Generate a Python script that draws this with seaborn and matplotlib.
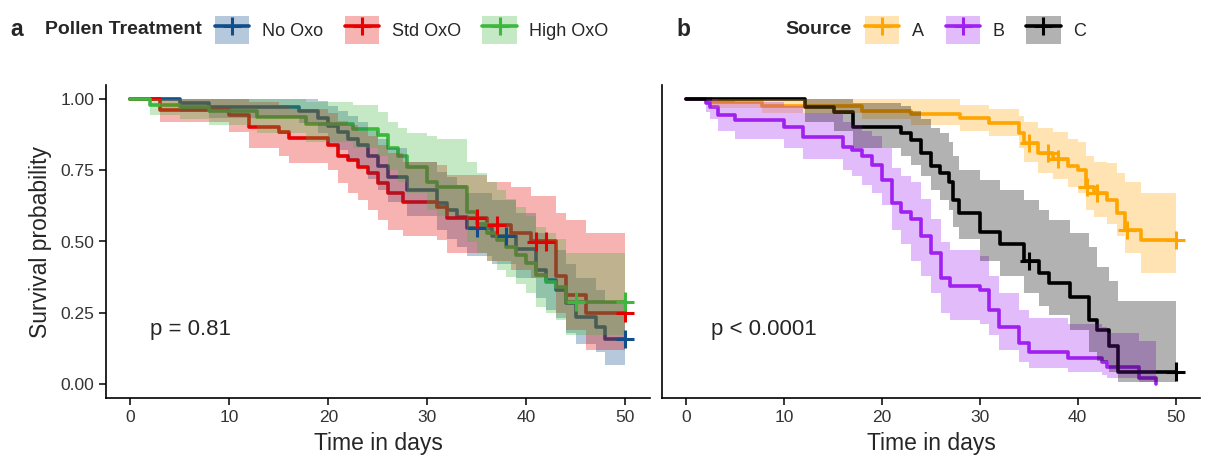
import numpy as np
import pandas as pd
import matplotlib
matplotlib.use("Agg")
import matplotlib.pyplot as plt
import seaborn as sns
from matplotlib.patches import Patch
from matplotlib.lines import Line2D

sns.set_theme(style="ticks")
plt.rcParams["font.family"] = ["Liberation Sans", "DejaVu Sans"]

# ---------------- Panel a : Pollen Treatment ----------------
treat_groups = ["No Oxo", "Std OxO", "High OxO"]
treat_colors = ["#104E8B", "#E60000", "#3CB83C"]

noxo_t = [0, 5, 8, 17, 19, 20, 21, 22, 23, 24, 25, 26, 28, 31, 32, 33, 34, 36.5, 39, 41, 42, 43, 44, 45, 47, 48]
noxo_s = [1, .985, .973, .958, .933, .905, .886, .86, .84, .80, .765, .727, .68, .635, .61, .585, .546, .519, .475, .40, .365, .33, .283, .236, .20, .157]
noxo_lo = [1, .955, .935, .915, .88, .845, .82, .79, .765, .72, .68, .64, .59, .54, .51, .48, .45, .42, .37, .30, .26, .23, .18, .14, .11, .067]
noxo_hi = [1, 1, 1, 1, .995, .975, .96, .94, .92, .89, .86, .83, .78, .745, .725, .70, .67, .645, .60, .53, .50, .47, .42, .37, .33, .29]
noxo_end = 50
noxo_cens = [35, 38, 50]

std_t = [0, 3, 10, 12, 15, 16, 20, 21, 22, 23, 24, 25, 26, 27.5, 31, 32, 36, 38.5, 40.5, 43, 44, 46]
std_s = [1, .963, .944, .903, .886, .862, .839, .80, .786, .763, .739, .704, .669, .64, .623, .581, .558, .531, .50, .377, .312, .248]
std_lo = [1, .92, .886, .83, .80, .775, .75, .705, .67, .645, .61, .575, .54, .52, .505, .46, .43, .40, .37, .25, .19, .12]
std_hi = [1, 1, 1, .99, .98, .965, .95, .925, .91, .89, .87, .84, .81, .78, .77, .735, .71, .69, .66, .60, .575, .53]
std_end = 50
std_cens = [35, 37, 41, 42, 50]

high_t = [0, 2, 5, 8, 12.8, 17.8, 22.5, 25, 26, 27, 28, 30, 31, 34, 35, 36, 37, 38, 39, 40, 41, 42, 43, 44]
high_s = [1, .981, .973, .958, .938, .914, .897, .875, .83, .80, .763, .71, .693, .605, .56, .53, .505, .48, .452, .423, .382, .359, .341, .289]
high_lo = [1, .945, .93, .91, .88, .85, .83, .80, .75, .71, .67, .61, .59, .50, .46, .43, .40, .376, .35, .32, .27, .25, .225, .17]
high_hi = [1, 1, 1, 1, 1, .99, .98, .955, .92, .90, .88, .87, .86, .78, .74, .71, .68, .65, .62, .59, .55, .53, .51, .46]
high_end = 50
high_cens = [45, 50]

# ---------------- Panel b : Source ----------------
src_groups = ["A", "B", "C"]
src_colors = ["#FFA500", "#A020F0", "#000000"]

a_t = [0, 2.7, 7.8, 18, 23, 28, 31, 34, 34.5, 36, 37.5, 39, 40, 40.9, 41.7, 43, 44, 44.8, 46.5]
a_s = [1, .99, .976, .958, .947, .933, .915, .88, .845, .81, .79, .765, .75, .692, .67, .646, .60, .54, .505]
a_lo = [1, .97, .95, .93, .91, .89, .87, .83, .78, .74, .72, .69, .67, .61, .585, .56, .52, .46, .39]
a_hi = [1, 1, 1, 1, 1, .98, .965, .94, .92, .90, .885, .86, .85, .80, .78, .775, .74, .71, .67]
a_end = 50
a_cens = [35, 37, 38, 41, 42, 45, 50]

b_t = [0, 2, 2.5, 3.3, 5, 10, 12, 16, 17, 18, 19, 20, 21, 22, 23, 24, 25, 26, 27, 30, 31, 32, 34, 35, 39, 42.5, 43, 46.3, 48]
b_s = [1, .985, .973, .944, .926, .903, .868, .833, .82, .80, .77, .716, .635, .605, .58, .52, .46, .37, .345, .33, .26, .20, .144, .113, .091, .078, .06, .02, 0]
b_lo = [1, .955, .93, .89, .86, .83, .79, .75, .73, .70, .67, .63, .54, .49, .43, .38, .32, .25, .225, .21, .17, .12, .075, .055, .04, .03, .02, .005, 0]
b_hi = [1, 1, 1, .995, .99, .975, .95, .92, .91, .89, .87, .83, .76, .73, .71, .65, .58, .50, .47, .45, .38, .32, .26, .23, .21, .20, .18, .15, 0]
b_end = 48
b_cens = []

c_t = [0, 12.2, 15.1, 17.1, 22, 23, 24, 25, 25.9, 26.9, 27.3, 27.9, 30, 32.1, 34.5, 36.1, 37.1, 39.2, 41.2, 42, 43.2, 44.1]
c_s = [1, .973, .955, .903, .88, .856, .81, .765, .74, .71, .646, .60, .535, .49, .43, .39, .354, .306, .225, .19, .131, .043]
c_lo = [1, .92, .89, .83, .80, .77, .73, .68, .645, .61, .55, .51, .43, .38, .32, .275, .24, .19, .11, .08, .04, .005]
c_hi = [1, 1, 1, .985, .975, .96, .93, .90, .88, .85, .80, .75, .716, .68, .645, .61, .575, .53, .48, .41, .36, .29]
c_end = 50
c_cens = [35, 50]

panel_a = {
    "No Oxo": (noxo_t, noxo_s, noxo_lo, noxo_hi, noxo_end, noxo_cens),
    "Std OxO": (std_t, std_s, std_lo, std_hi, std_end, std_cens),
    "High OxO": (high_t, high_s, high_lo, high_hi, high_end, high_cens),
}
panel_b = {
    "A": (a_t, a_s, a_lo, a_hi, a_end, a_cens),
    "B": (b_t, b_s, b_lo, b_hi, b_end, b_cens),
    "C": (c_t, c_s, c_lo, c_hi, c_end, c_cens),
}

W, H = 1208, 459
fig = plt.figure(figsize=(W / 100, H / 100), dpi=100)
axA = fig.add_axes([106 / W, 1 - 398 / H, 544 / W, 313 / H])
axB = fig.add_axes([662 / W, 1 - 398 / H, 538 / W, 313 / H])


def draw_panel(ax, groups, colors, data):
    rows, crow = [], []
    for g in groups:
        t, s, lo, hi, tend, cens = data[g]
        for ti, si in zip(list(t) + [tend], list(s) + [s[-1]]):
            rows.append((g, ti, si))
        for tc in cens:
            idx = np.searchsorted(np.array(t), tc, side="right") - 1
            crow.append((g, tc, s[idx]))
    df = pd.DataFrame(rows, columns=["group", "time", "surv"])
    pal = dict(zip(groups, colors))
    sns.lineplot(data=df, x="time", y="surv", hue="group", palette=pal,
                 estimator=None, sort=False, drawstyle="steps-post",
                 lw=2.6, legend=False, ax=ax, zorder=2)
    for g, c in zip(groups, colors):
        t, s, lo, hi, tend, cens = data[g]
        x = list(t) + [tend]
        ax.fill_between(x, list(lo) + [lo[-1]], list(hi) + [hi[-1]], step="post",
                        color=c, alpha=0.3, lw=0, zorder=2.5)
    if crow:
        cdf = pd.DataFrame(crow, columns=["group", "time", "surv"])
        sns.scatterplot(data=cdf, x="time", y="surv", hue="group", palette=pal,
                        marker="+", s=170, linewidth=2.2, legend=False, ax=ax, zorder=4)
    ax.set_xlim(-2.45, 52.5)
    ax.set_ylim(-0.05, 1.05)
    ax.set_xticks([0, 10, 20, 30, 40, 50])
    ax.set_yticks([0, .25, .5, .75, 1])
    ax.set_yticklabels(["0.00", "0.25", "0.50", "0.75", "1.00"])
    for sp in ["top", "right"]:
        ax.spines[sp].set_visible(False)
    for sp in ["left", "bottom"]:
        ax.spines[sp].set_color("black")
        ax.spines[sp].set_linewidth(1.2)
    ax.tick_params(direction="out", length=5, width=1.1, colors="black",
                   labelsize=12.5, labelcolor="#333333")
    ax.set_xlabel("Time in days", fontsize=16.5, labelpad=5)


draw_panel(axA, treat_groups, treat_colors, panel_a)
draw_panel(axB, src_groups, src_colors, panel_b)
axA.set_ylabel("Survival probability", fontsize=16.5, labelpad=6)
axB.set_ylabel("")
axB.set_yticklabels([])
axB.tick_params(axis="y", length=0)

axA.text(2.0, 0.19, "p = 0.81", fontsize=16, va="center", ha="left")
axB.text(2.6, 0.19, "p < 0.0001", fontsize=16, va="center", ha="left")


def legend_handles(colors):
    hs = []
    for c in colors:
        hs.append((Patch(facecolor=c, alpha=0.3, edgecolor="none"),
                   Line2D([0], [0], color=c, lw=2.6, marker="+", markersize=13,
                          markeredgewidth=2.2)))
    return hs


common = dict(ncol=3, loc="center left", frameon=False, borderpad=0, borderaxespad=0,
              fontsize=13, handlelength=1.9, handleheight=2.0, handletextpad=0.7,
              columnspacing=1.2, numpoints=1)
legA = fig.legend(legend_handles(treat_colors), treat_groups,
                  bbox_to_anchor=(215 / W, 1 - 30 / H), **common)
legB = fig.legend(legend_handles(src_colors), src_groups,
                  bbox_to_anchor=(865 / W, 1 - 30 / H), **common)

fig.text(10 / W, 1 - 30 / H, "a", fontsize=16.5, fontweight="bold", va="center")
fig.text(45 / W, 1 - 30 / H, "Pollen Treatment", fontsize=14, fontweight="bold", va="center")
fig.text(676 / W, 1 - 30 / H, "b", fontsize=16.5, fontweight="bold", va="center")
fig.text(785 / W, 1 - 30 / H, "Source", fontsize=14, fontweight="bold", va="center")

fig.savefig("out.png", dpi=100)
